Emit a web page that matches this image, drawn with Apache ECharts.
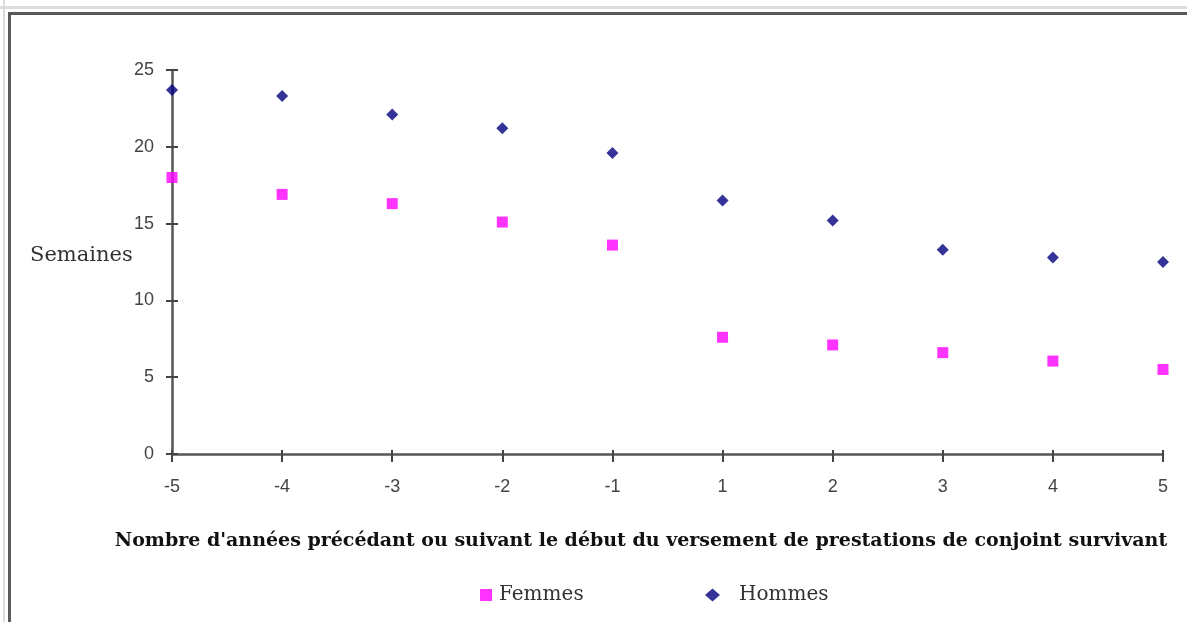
<!DOCTYPE html>
<html>
<head>
<meta charset="utf-8">
<script src="https://cdn.jsdelivr.net/npm/echarts@6/dist/echarts.min.js"></script>
<style>
html,body{margin:0;padding:0;background:#fff;}
#chart{width:1187px;height:622px;}
</style>
</head>
<body>
<div id="chart"></div>
<script>
const categories = ['-5','-4','-3','-2','-1','1','2','3','4','5'];
const femmes = [18.0, 16.9, 16.3, 15.1, 13.6, 7.6, 7.1, 6.6, 6.05, 5.5];
const hommes = [23.7, 23.3, 22.1, 21.2, 19.6, 16.5, 15.2, 13.3, 12.8, 12.5];
const yTicks = [0, 5, 10, 15, 20, 25];

const chart = echarts.init(document.getElementById('chart'));
const serif = '"DejaVu Serif", "Liberation Serif", serif';
const sans = '"Liberation Sans", Arial, sans-serif';
const yMin = yTicks[0], yMax = yTicks[yTicks.length - 1], yStep = yTicks[1] - yTicks[0];
chart.setOption({
  animation: false,
  backgroundColor: '#fff',
  grid: {left: 172, right: 24, top: 70, bottom: 168, containLabel: false},
  xAxis: [{
    type: 'category',
    data: categories,
    boundaryGap: false,
    axisLine: {lineStyle: {color: '#555', width: 2.5}},
    axisTick: {show: true, alignWithLabel: true, length: 8, inside: false, lineStyle: {color: '#444', width: 2}},
    axisLabel: {color: '#444', fontFamily: sans, fontSize: 18, margin: 24},
    splitLine: {show: false}
  }, {
    type: 'category',
    data: categories,
    boundaryGap: false,
    position: 'bottom',
    axisLine: {show: false},
    axisTick: {show: true, alignWithLabel: true, length: 4, inside: true, lineStyle: {color: '#444', width: 2}},
    axisLabel: {show: false},
    splitLine: {show: false}
  }],
  yAxis: [{
    type: 'value',
    min: yMin, max: yMax, interval: yStep,
    axisLine: {show: true, lineStyle: {color: '#555', width: 2.5}},
    axisTick: {show: true, length: 6, lineStyle: {color: '#444', width: 2}},
    axisLabel: {color: '#444', fontFamily: sans, fontSize: 18, margin: 18},
    splitLine: {show: false}
  }, {
    type: 'value',
    position: 'left',
    min: yMin, max: yMax, interval: yStep,
    axisLine: {show: false},
    axisTick: {show: true, length: 6, inside: true, lineStyle: {color: '#444', width: 2}},
    axisLabel: {show: false},
    splitLine: {show: false}
  }],
  legend: [{
    data: ['Femmes'],
    left: 475, top: 580,
    itemWidth: 12, itemHeight: 12,
    textStyle: {fontFamily: serif, fontSize: 20, color: '#333', padding: [0,0,0,2]}
  }, {
    data: ['Hommes'],
    left: 700, top: 580,
    itemWidth: 15, itemHeight: 13,
    textStyle: {fontFamily: serif, fontSize: 20, color: '#333', padding: [0,0,0,14]}
  }],
  series: [
    {
      name: 'Femmes', type: 'scatter', data: femmes,
      symbol: 'rect', symbolSize: 11,
      itemStyle: {color: '#ff00ff'}
    },
    {
      name: 'Hommes', type: 'scatter', data: hommes,
      symbol: 'diamond', symbolSize: [12, 12],
      itemStyle: {color: '#000080'}
    }
  ],
  graphic: [
    {type: 'rect', shape: {x: 0, y: 6, width: 1187, height: 3}, style: {fill: '#dcdcdc'}, silent: true},
    {type: 'rect', shape: {x: 3, y: 0, width: 2, height: 622}, style: {fill: '#dcdcdc'}, silent: true},
    {type: 'rect', shape: {x: 8, y: 12, width: 1179, height: 3}, style: {fill: '#5a5a5a'}, silent: true},
    {type: 'rect', shape: {x: 8, y: 12, width: 3, height: 610}, style: {fill: '#5a5a5a'}, silent: true},
    {type: 'text', x: 30, y: 245, style: {text: 'Semaines', font: '21px ' + serif, fill: '#333'}},
    {type: 'text', x: 641, y: 532, style: {text: "Nombre d'années précédant ou suivant le début du versement de prestations de conjoint survivant", font: 'bold 19px ' + serif, fill: '#111', align: 'center'}}
  ]
});
</script>
</body>
</html>
